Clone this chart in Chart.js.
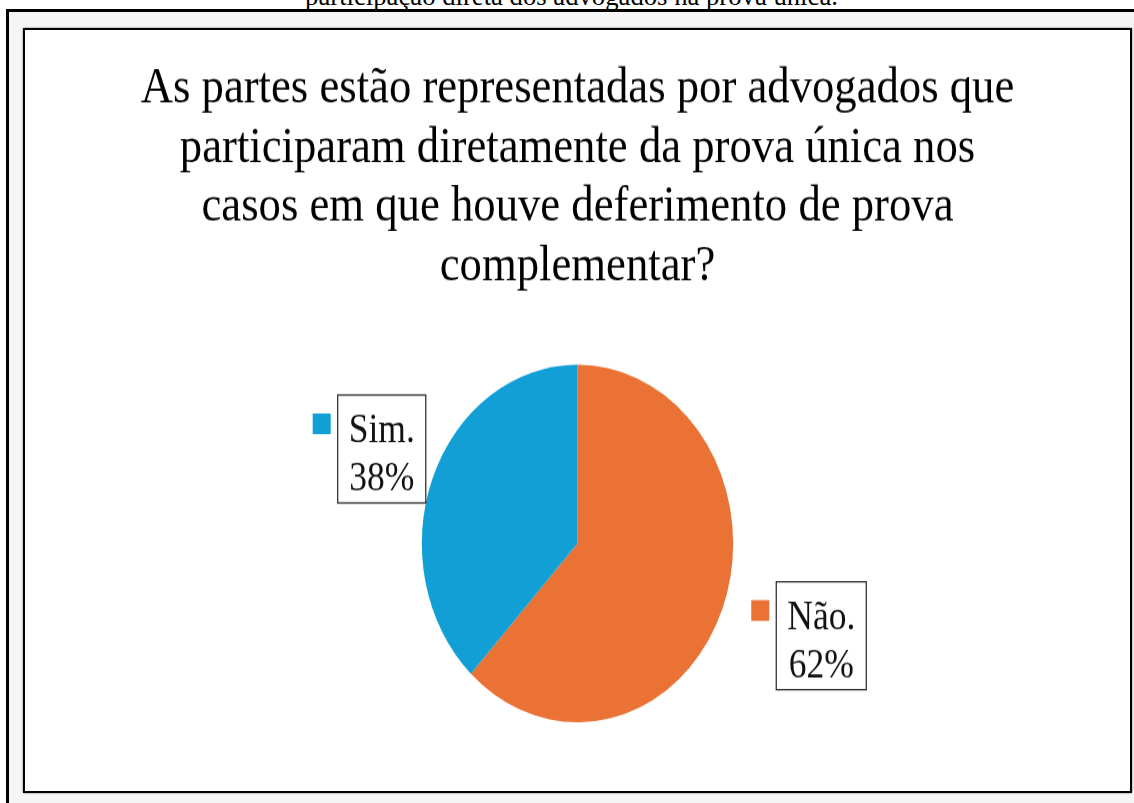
<!DOCTYPE html>
<html>
<head>
<meta charset="utf-8">
<script src="https://cdn.jsdelivr.net/npm/chart.js@4"></script>
<style>
  html, body { margin: 0; padding: 0; background: #fff; overflow: hidden; }
  body { width: 1134px; height: 803px; position: relative; font-family: "Liberation Serif", "Times New Roman", serif; }
  .caption {
    position: absolute; left: 0; width: 1143px; top: -18px;
    text-align: center; font-size: 26.7px; line-height: 1.107; color: #000; white-space: nowrap;
  }
  .outer {
    position: absolute; left: 6px; top: 9px; width: 1300px; height: 900px;
    border-left: 3px solid #000; border-top: 3px solid #000; background: #f5f5f5;
  }
  .inner {
    position: absolute; left: 23px; top: 28px; width: 1105px; height: 761px;
    border: 2px solid #000; background: #fff; box-shadow: 0 0 2px #777;
  }
  .stretch { position: absolute; left: 0; top: 0; transform: scaleY(1.148); transform-origin: 0 0; }
</style>
</head>
<body>
<div class="caption">participação direta dos advogados na prova única.</div>
<div class="outer"></div>
<div class="inner">
  <div class="stretch"><canvas id="pie" width="1105" height="663"></canvas></div>
</div>
<script>
// values
const categories = ['Não.', 'Sim.'];
const shares = [62, 38];
const titleLines = [
  'As partes estão representadas por advogados que',
  'participaram diretamente da prova única nos',
  'casos em que houve deferimento de prova',
  'complementar?'
];
const sliceColors = ['#E97234', '#129FD6'];

const serif = '"Liberation Serif", "Times New Roman", serif';

// boxed data labels with a colour key, like the Excel "outside end" callouts
const calloutLabels = {
  id: 'calloutLabels',
  afterDatasetsDraw(chart, args, opts) {
    const { ctx } = chart;
    const meta = chart.getDatasetMeta(0);
    const values = chart.data.datasets[0].data;
    const total = values.reduce((a, b) => a + b, 0);
    ctx.save();
    ctx.font = `${opts.size}px ${serif}`;
    meta.data.forEach((arc, i) => {
      const { x, y, startAngle, endAngle, outerRadius } =
        arc.getProps(['x', 'y', 'startAngle', 'endAngle', 'outerRadius'], true);
      const mid = (startAngle + endAngle) / 2;
      const px = x + Math.cos(mid) * outerRadius;
      const py = y + Math.sin(mid) * outerRadius;
      const [dx, dy] = opts.offsets[i];
      const lines = [chart.data.labels[i], Math.round(values[i] / total * 100) + '%'];
      const textW = Math.max(...lines.map(l => ctx.measureText(l).width));
      const w = textW + opts.padX * 2;
      const h = opts.boxHeight;
      const cx = px + dx, cy = py + dy;
      const left = cx - w / 2, top = cy - h / 2;

      ctx.strokeStyle = '#222';
      ctx.lineWidth = 1.2;
      ctx.strokeRect(left, top, w, h);

      ctx.fillStyle = '#111';
      ctx.textAlign = 'center';
      ctx.textBaseline = 'alphabetic';
      ctx.fillText(lines[0], cx, top + opts.baseline1);
      ctx.fillText(lines[1], cx, top + opts.baseline2);

      ctx.fillStyle = chart.data.datasets[0].backgroundColor[i];
      ctx.fillRect(left - opts.keyGap - opts.keySize, top + opts.keyTop, opts.keySize, opts.keySize);
    });
    ctx.restore();
  }
};

new Chart(document.getElementById('pie'), {
  type: 'pie',
  data: {
    labels: categories,
    datasets: [{
      data: shares,
      backgroundColor: sliceColors,
      borderWidth: 0,
      hoverOffset: 0
    }]
  },
  options: {
    responsive: false,
    animation: false,
    events: [],
    layout: { padding: { top: 0, bottom: 60, left: 0, right: 0 } },
    plugins: {
      legend: { display: false },
      tooltip: { enabled: false },
      title: {
        display: true,
        text: titleLines,
        color: '#000',
        font: { family: serif, size: 44.7, weight: 'normal', lineHeight: 1.15 },
        padding: { top: 26, bottom: 60 }
      },
      calloutLabels: {
        size: 35.5,
        padX: 11,
        boxHeight: 94,
        baseline1: 41,
        baseline2: 83,
        keySize: 18,
        keyGap: 7,
        keyTop: 16,
        offsets: [[99, 23], [-51, -25]]
      }
    }
  },
  plugins: [calloutLabels]
});
</script>
</body>
</html>
